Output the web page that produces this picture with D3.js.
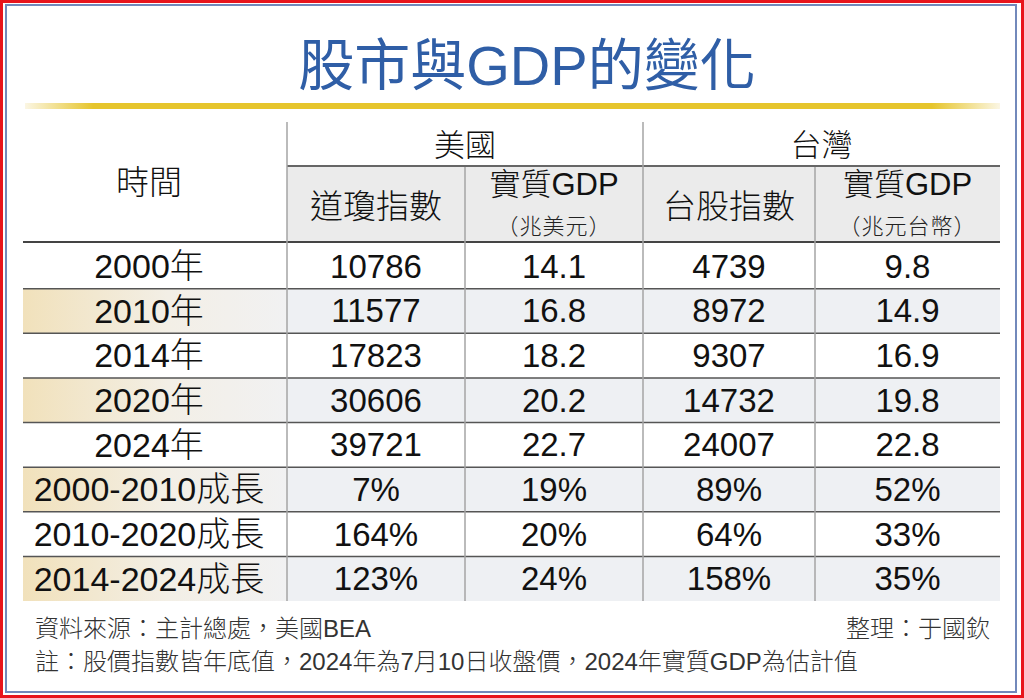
<!DOCTYPE html>
<html>
<head>
    <meta charset="utf-8">
    <title>股市與GDP的變化</title>
    <script src="https://cdn.jsdelivr.net/npm/d3@7/dist/d3.min.js" type="text/javascript"></script>
    <style type="text/css">
        body { margin: 0; background: #fff; }
        svg text { font-family: "Liberation Sans", "Noto Sans CJK TC", sans-serif; font-weight: 300; fill: #111; }
        svg text.cjk { font-family: "Noto Sans CJK TC", sans-serif; }
        svg text.unit { font-feature-settings: "fwid"; letter-spacing: 1px; }
    </style>
</head>
<body>
<div id="chart"></div>
<script type="text/javascript">
    // data
    var title = "股市與GDP的變化";
    var times = ["2000年", "2010年", "2014年", "2020年", "2024年", "2000-2010成長", "2010-2020成長", "2014-2024成長"];
    var dowIndex = ["10786", "11577", "17823", "30606", "39721", "7%", "164%", "123%"];
    var usGdp = ["14.1", "16.8", "18.2", "20.2", "22.7", "19%", "20%", "24%"];
    var twIndex = ["4739", "8972", "9307", "14732", "24007", "89%", "64%", "158%"];
    var twGdp = ["9.8", "14.9", "16.9", "19.8", "22.8", "52%", "33%", "35%"];
    var shadedRows = ["2010年", "2020年", "2000-2010成長", "2014-2024成長"];

    var groupHeaders = [{name: "美國", from: "dow", to: "twIdx"}, {name: "台灣", from: "twIdx", to: "end"}];
    var subHeaders = [
        {col: "dow", main: "道瓊指數", unit: null},
        {col: "usGdp", main: "實質GDP", unit: "（兆美元）"},
        {col: "twIdx", main: "台股指數", unit: null},
        {col: "twGdp", main: "實質GDP", unit: "（兆元台幣）"}
    ];
    var columns = [
        {col: "dow", values: dowIndex},
        {col: "usGdp", values: usGdp},
        {col: "twIdx", values: twIndex},
        {col: "twGdp", values: twGdp}
    ];
    var source = "資料來源：主計總處，美國BEA";
    var editor = "整理：于國欽";
    var note = "註：股價指數皆年底值，2024年為7月10日收盤價，2024年實質GDP為估計值";

    var width = 1024, height = 698;

    var svg = d3.select('#chart')
        .append('svg')
        .attr('width', width)
        .attr('height', height);

    // scales
    var y = d3.scaleBand().domain(times).range([244, 601]);
    var edge = d3.scaleOrdinal()
        .domain(["time", "dow", "usGdp", "twIdx", "twGdp", "end"])
        .range([23, 287, 465, 643, 815, 1000]);
    var next = {time: "dow", dow: "usGdp", usGdp: "twIdx", twIdx: "twGdp", twGdp: "end"};
    var mid = function(c) { return (edge(c) + edge(next[c])) / 2; };

    var defs = svg.append('defs');
    var gold = defs.append('linearGradient').attr('id', 'gold');
    [[0, '#fbf6e4'], [0.07, '#e6c52c'], [0.93, '#e6c52c'], [1, '#fbf6e4']].forEach(function(s) {
        gold.append('stop').attr('offset', s[0]).attr('stop-color', s[1]);
    });
    var tan = defs.append('linearGradient').attr('id', 'tan');
    [[0, '#f1e1bb'], [0.55, '#f3efe6'], [1, '#f1f1f2']].forEach(function(s) {
        tan.append('stop').attr('offset', s[0]).attr('stop-color', s[1]);
    });

    // frame
    svg.append('rect').attr('x', 1.5).attr('y', 1.5).attr('width', width - 3).attr('height', height - 3)
        .attr('fill', 'none').attr('stroke', '#e8141c').attr('stroke-width', 3);
    svg.append('rect').attr('x', 6).attr('y', 5).attr('width', 1010).attr('height', 687)
        .attr('fill', 'none').attr('stroke', '#7289bb').attr('stroke-width', 2);

    // title
    svg.append('text').attr('x', 527).attr('y', 85)
        .attr('text-anchor', 'middle').style('font-size', '56px').style('font-weight', 400).style('fill', '#2f5ea6')
        .text(title);
    svg.append('rect').attr('x', 25).attr('y', 103).attr('width', 975).attr('height', 6)
        .attr('fill', 'url(#gold)');

    // header shading
    svg.append('rect').attr('x', edge("dow")).attr('y', 167)
        .attr('width', edge("end") - edge("dow")).attr('height', 74).attr('fill', '#ebebeb');

    // row shading
    var shaded = svg.append('g').selectAll('g').data(shadedRows).enter().append('g');
    shaded.append('rect')
        .attr('x', edge("time")).attr('y', function(d) { return y(d); })
        .attr('width', edge("dow") - edge("time")).attr('height', y.bandwidth())
        .attr('fill', 'url(#tan)');
    shaded.append('rect')
        .attr('x', edge("dow")).attr('y', function(d) { return y(d); })
        .attr('width', edge("end") - edge("dow")).attr('height', y.bandwidth())
        .attr('fill', '#eef0f3');

    // grid lines
    svg.append('line').attr('x1', edge("dow")).attr('x2', edge("end")).attr('y1', 166).attr('y2', 166)
        .attr('stroke', '#333').attr('stroke-width', 1.5);
    svg.append('line').attr('x1', edge("time")).attr('x2', edge("end")).attr('y1', 242).attr('y2', 242)
        .attr('stroke', '#444').attr('stroke-width', 2);
    svg.append('g').selectAll('line').data(times.slice(1)).enter().append('line')
        .attr('x1', edge("time")).attr('x2', edge("end"))
        .attr('y1', function(d) { return y(d); }).attr('y2', function(d) { return y(d); })
        .attr('stroke', '#555').attr('stroke-width', 1.5);
    svg.append('g').selectAll('line').data(["dow", "usGdp", "twIdx", "twGdp"]).enter().append('line')
        .attr('x1', function(d) { return edge(d); }).attr('x2', function(d) { return edge(d); })
        .attr('y1', function(d) { return (d == "dow" || d == "twIdx") ? 122 : 167; })
        .attr('y2', y.range()[1])
        .attr('stroke', '#a5a5a5').attr('stroke-width', 1.5);

    // headers
    svg.append('text').attr('class', 'cjk').attr('x', mid("time") - 6).attr('y', 182).attr('dy', '0.35em')
        .attr('text-anchor', 'middle').style('font-size', '33px').text("時間");
    svg.append('g').selectAll('text').data(groupHeaders).enter().append('text')
        .attr('class', 'cjk')
        .attr('x', function(d) { return (edge(d.from) + edge(d.to)) / 2; })
        .attr('y', 145).attr('dy', '0.35em')
        .attr('text-anchor', 'middle').style('font-size', '31px')
        .text(function(d) { return d.name; });
    var sub = svg.append('g').selectAll('g').data(subHeaders).enter().append('g');
    sub.append('text')
        .attr('x', function(d) { return mid(d.col); })
        .attr('y', function(d) { return d.unit ? 184 : 206; }).attr('dy', '0.35em')
        .attr('text-anchor', 'middle')
        .style('font-size', function(d) { return d.unit ? '31px' : '33px'; })
        .text(function(d) { return d.main; });
    sub.filter(function(d) { return d.unit; }).append('text')
        .attr('class', 'cjk unit')
        .attr('x', function(d) { return mid(d.col); })
        .attr('y', 226).attr('dy', '0.35em')
        .attr('text-anchor', 'middle').style('font-size', '22px').style('fill', '#222')
        .text(function(d) { return d.unit; });

    // body
    svg.append('g').selectAll('text').data(times).enter().append('text')
        .attr('x', mid("time") - 6)
        .attr('y', function(d) { return y(d) + y.bandwidth() / 2; }).attr('dy', '0.35em')
        .attr('text-anchor', 'middle').style('font-size', '34px')
        .text(function(d) { return d; });
    var cols = svg.append('g').selectAll('g').data(columns).enter().append('g');
    cols.selectAll('text').data(function(c) {
            return c.values.map(function(v, i) { return {col: c.col, row: times[i], v: v}; });
        }).enter().append('text')
        .attr('x', function(d) { return mid(d.col); })
        .attr('y', function(d) { return y(d.row) + y.bandwidth() / 2; }).attr('dy', '0.35em')
        .attr('text-anchor', 'middle').style('font-size', '33px')
        .text(function(d) { return d.v; });

    // footer
    svg.append('text').attr('x', 35).attr('y', 637).style('font-size', '24px').style('fill', '#333').text(source);
    svg.append('text').attr('x', 990).attr('y', 637).attr('text-anchor', 'end')
        .style('font-size', '24px').style('fill', '#333').text(editor);
    svg.append('text').attr('x', 35).attr('y', 670).style('font-size', '24px').style('fill', '#333').text(note);
</script>
</body>
</html>
